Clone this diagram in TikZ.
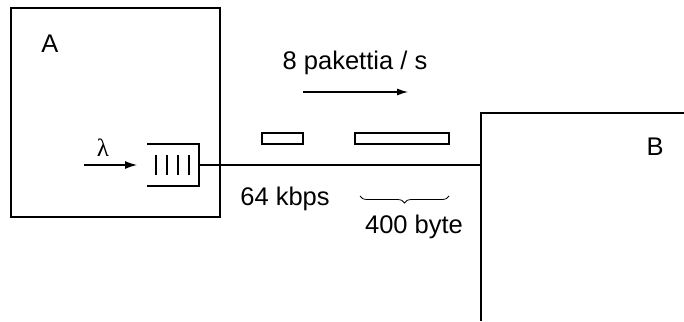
\documentclass[tikz,border=0pt]{standalone}
\usepackage{fontspec}
\setmainfont{Liberation Sans}
\newfontfamily\grk{Liberation Serif}
\usetikzlibrary{arrows.meta,decorations.pathreplacing}
\begin{document}
\begin{tikzpicture}[x=1pt,y=-1pt,
  line/.style={line width=1.1pt},
  lbl/.style={inner sep=0pt,font=\fontsize{25.5}{30}\selectfont},
  pkt/.style={draw,line width=1.1pt,inner sep=0pt,minimum height=11pt},
  arr/.style={line width=1.1pt,-{Latex[length=12pt,width=8pt]}}]
\useasboundingbox (0,0) rectangle (684,321);
% box A
\node[draw,line width=1.1pt,minimum width=209pt,minimum height=209pt,inner sep=0pt] (boxA) at (115.5,112.5) {};
\node[lbl] (labA) at (50,44) {A};
% box B (extends past the picture)
\coordinate (Btop) at (481,113);
\coordinate (Bright) at (684,113);
\coordinate (Bbot) at (481,321);
\draw[line] (Bright) -- (Btop) -- (Bbot);
\node[lbl] (labB) at (655,147) {B};
% queue
\coordinate (qtl) at (147,144);
\coordinate (qtr) at (199,144);
\coordinate (qbr) at (199,186);
\coordinate (qbl) at (147,186);
\draw[line] (qtl) -- (qtr) -- (qbr) -- (qbl);
\foreach \x in {156,167,178,189}{\draw[line] (\x,155) -- (\x,175);}
\coordinate (qout) at (199,165);
\coordinate (Bin) at (481,165);
\draw[line] (qout) -- (Bin);
% lambda arrow
\coordinate (lin) at (84,165);
\coordinate (lend) at (137,165);
\draw[arr] (lin) -- (lend);
\node[inner sep=0pt,font=\grk\fontsize{25}{29}\selectfont] (lam) at (103,148) {λ};
% packets
\node[pkt,minimum width=41pt] (p1) at (282.5,138.5) {};
\node[pkt,minimum width=94pt] (p2) at (402,138.5) {};
% rate
\node[lbl] (rate) at (355,63) {8 pakettia / s};
\coordinate (ra) at (303,92);
\coordinate (rb) at (408,92);
\draw[line,-{Latex[length=11pt,width=7pt]}] (ra) -- (rb);
% labels
\node[lbl] (kbps) at (285,199) {64 kbps};
\coordinate (br1) at (360,196);
\coordinate (br2) at (449,196);
\draw[line width=0.8pt,decorate,decoration={brace,mirror,amplitude=7pt}] (br1) -- (br2);
\node[lbl] (bytes) at (414,227) {400 byte};
\end{tikzpicture}
\end{document}
